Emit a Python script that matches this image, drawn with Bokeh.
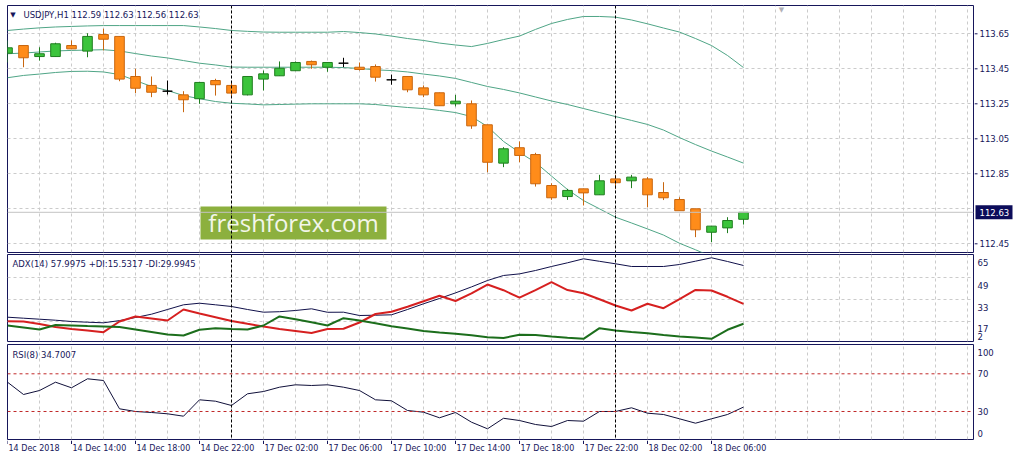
from bokeh.plotting import figure
from bokeh.models import Range1d, FixedTicker, Span, Label, Grid, ColumnDataSource
from bokeh.layouts import column, row
from bokeh.core.properties import value
from bokeh.embed import file_html
from bokeh.resources import INLINE

# ---------------- data (USDJPY H1, 14 Dec 2018 10:00 .. 18 Dec 2018 08:00) ----------------
bar_index = list(range(47))

open_ = [113.539, 113.583, 113.520, 113.520, 113.583, 113.551, 113.646, 113.635, 113.406, 113.355,
         113.322, 113.301, 113.279, 113.383, 113.355, 113.301, 113.391, 113.410, 113.439, 113.492,
         113.459, 113.482, 113.459, 113.463, 113.387, 113.406, 113.341, 113.313, 113.250, 113.250,
         113.130, 112.911, 112.999, 112.960, 112.783, 112.720, 112.764, 112.730, 112.821, 112.810,
         112.821, 112.743, 112.703, 112.650, 112.516, 112.541, 112.590]
high_ = [113.612, 113.586, 113.573, 113.599, 113.612, 113.653, 113.679, 113.636, 113.450, 113.406,
         113.383, 113.322, 113.375, 113.393, 113.373, 113.408, 113.440, 113.492, 113.492, 113.497,
         113.487, 113.513, 113.486, 113.475, 113.417, 113.407, 113.355, 113.314, 113.301, 113.269,
         113.130, 113.002, 113.035, 112.970, 112.796, 112.764, 112.765, 112.844, 112.844, 112.844,
         112.831, 112.802, 112.716, 112.650, 112.551, 112.602, 112.630]
low_ = [113.486, 113.459, 113.497, 113.518, 113.562, 113.516, 113.555, 113.379, 113.311, 113.288,
        113.303, 113.202, 113.250, 113.297, 113.284, 113.298, 113.326, 113.410, 113.439, 113.450,
        113.433, 113.459, 113.440, 113.377, 113.359, 113.316, 113.288, 113.238, 113.235, 113.107,
        112.859, 112.888, 112.916, 112.777, 112.701, 112.701, 112.669, 112.730, 112.764, 112.768,
        112.659, 112.700, 112.639, 112.488, 112.459, 112.511, 112.560]
close_ = [113.570, 113.513, 113.536, 113.593, 113.564, 113.635, 113.619, 113.391, 113.339, 113.316,
          113.322, 113.273, 113.372, 113.359, 113.311, 113.406, 113.421, 113.453, 113.486, 113.473,
          113.486, 113.482, 113.446, 113.402, 113.387, 113.330, 113.301, 113.239, 113.265, 113.124,
          112.916, 112.993, 112.955, 112.793, 112.713, 112.755, 112.741, 112.810, 112.799, 112.831,
          112.730, 112.713, 112.639, 112.530, 112.551, 112.583, 112.630]

upper_band = [113.669, 113.677, 113.684, 113.689, 113.692, 113.695, 113.697, 113.697, 113.697, 113.697,
              113.697, 113.697, 113.689, 113.680, 113.669, 113.664, 113.660, 113.659, 113.659, 113.659,
              113.659, 113.663, 113.657, 113.649, 113.637, 113.623, 113.612, 113.597, 113.586, 113.577,
              113.595, 113.617, 113.637, 113.675, 113.709, 113.732, 113.749, 113.749, 113.745, 113.729,
              113.707, 113.683, 113.660, 113.623, 113.583, 113.526, 113.457]
middle_band = [113.536, 113.540, 113.546, 113.552, 113.555, 113.557, 113.559, 113.552, 113.537, 113.523,
               113.512, 113.497, 113.482, 113.472, 113.460, 113.459, 113.459, 113.459, 113.459, 113.459,
               113.459, 113.457, 113.452, 113.444, 113.440, 113.432, 113.420, 113.409, 113.395, 113.372,
               113.349, 113.332, 113.312, 113.289, 113.266, 113.246, 113.223, 113.200, 113.177, 113.155,
               113.132, 113.100, 113.057, 113.017, 112.980, 112.946, 112.911]
lower_band = [113.399, 113.412, 113.420, 113.429, 113.435, 113.436, 113.432, 113.417, 113.383, 113.349,
              113.326, 113.297, 113.279, 113.263, 113.253, 113.249, 113.244, 113.246, 113.248, 113.250,
              113.250, 113.250, 113.250, 113.246, 113.237, 113.229, 113.223, 113.212, 113.200, 113.177,
              113.120, 113.035, 112.972, 112.915, 112.837, 112.760, 112.697, 112.650, 112.602, 112.569,
              112.535, 112.500, 112.453, 112.416, 112.377, 112.337, 112.297]

adx = [20.34, 19.61, 18.88, 18.15, 17.20, 16.69, 16.26, 17.86, 20.12, 22.52,
       25.95, 29.37, 30.53, 29.37, 28.13, 25.95, 23.98, 24.34, 25.22, 26.45,
       23.91, 23.98, 21.57, 21.79, 22.08, 25.95, 30.10, 33.96, 38.04, 42.41,
       47.07, 50.71, 51.88, 54.35, 57.27, 59.96, 62.87, 61.05, 59.23, 57.27,
       57.27, 57.27, 58.72, 61.13, 63.60, 60.91, 58.00]
plus_di = [14.29, 12.83, 11.38, 14.66, 14.36, 13.93, 13.56, 13.13, 11.38, 9.56,
           7.74, 7.01, 11.16, 12.25, 11.67, 11.38, 14.29, 20.85, 18.88, 16.62,
           14.29, 19.61, 17.93, 15.97, 13.71, 12.11, 10.36, 9.19, 8.25, 7.15,
           5.77, 5.19, 7.52, 7.44, 6.28, 5.40, 4.60, 12.32, 10.65, 9.63,
           8.68, 7.37, 6.35, 5.48, 4.60, 11.16, 15.53]
minus_di = [17.42, 17.20, 15.31, 13.13, 11.74, 10.65, 9.41, 17.20, 20.85, 19.39,
            17.93, 25.95, 23.03, 20.34, 17.57, 15.53, 13.56, 11.67, 10.28, 8.83,
            11.74, 11.96, 16.48, 22.67, 24.34, 27.98, 31.92, 35.92, 32.14, 37.67,
            44.15, 40.00, 34.54, 40.00, 45.83, 40.08, 37.82, 33.45, 28.86, 25.22,
            30.10, 26.89, 33.52, 40.22, 39.78, 35.20, 29.99]
rsi = [61.09, 48.04, 52.28, 61.09, 55.15, 64.69, 62.89, 32.86, 30.00, 28.94,
       27.56, 25.01, 42.41, 40.93, 36.37, 48.78, 51.22, 55.78, 58.33, 57.59,
       58.33, 55.78, 52.28, 42.41, 41.35, 31.06, 29.26, 23.32, 28.94, 18.65,
       11.64, 22.79, 20.45, 16.21, 14.08, 20.45, 19.71, 30.00, 30.00, 33.93,
       28.20, 26.82, 22.25, 17.59, 22.25, 26.82, 34.70]

time_tick_bars = [0, 4, 8, 12, 16, 20, 24, 28, 32, 36, 40, 44]
time_tick_labels = ["14 Dec 2018", "14 Dec 14:00", "14 Dec 18:00", "14 Dec 22:00",
                    "17 Dec 02:00", "17 Dec 06:00", "17 Dec 10:00", "17 Dec 14:00",
                    "17 Dec 18:00", "17 Dec 22:00", "18 Dec 02:00", "18 Dec 06:00"]
separator_bars = [14, 38]
price_ticks = [112.45, 112.85, 113.05, 113.25, 113.45, 113.65]
price_tick_text = ["112.45", "112.85", "113.05", "113.25", "113.45", "113.65"]
price_grid = [112.45, 112.65, 112.85, 113.05, 113.25, 113.45, 113.65]
adx_grid = [17, 33, 49]
adx_tick_pos = [60.4, 43.43, 27.62, 11.89, 6.28]
adx_tick_text = ["65", "49", "33", "17", "2"]
rsi_tick_pos = [92.9, 70, 30, 6.98]
rsi_tick_text = ["100", "70", "30", "0"]
rsi_levels = [30, 70]
last_price = 112.63
last_price_text = "112.63"
title_main = "USDJPY,H1  112.59 112.63 112.56 112.63"
title_adx = "ADX(14) 57.9975 +DI:15.5317 -DI:29.9945"
title_rsi = "RSI(8) 34.7007"

# ---------------- styling ----------------
FONT = "DejaVu Sans"
NAVY = "#16165a"
GRID = "#cbcbcb"
BULL_FILL, BULL_LINE = "#3cc43c", "#1f7d1f"
BEAR_FILL, BEAR_LINE = "#ff8c1a", "#c8660f"
BAND = "#4fa586"
PANEL_W = 974      # frame from x=7 to x=973
AXIS_W = 41        # price scale strip on the right
x_range = Range1d(0, 60.375)


def clean(p):
    p.grid.visible = False
    p.background_fill_color = "white"
    p.border_fill_color = "white"
    return p


def panel_fig(height, y_range, top, bottom):
    p = figure(width=PANEL_W, height=height, x_range=x_range, y_range=y_range,
               output_backend="svg", toolbar_location=None,
               x_axis_location=None, y_axis_location=None,
               min_border_left=7, min_border_right=1,
               min_border_top=top, min_border_bottom=bottom)
    clean(p)
    p.outline_line_color = NAVY
    p.add_layout(Grid(dimension=0, ticker=FixedTicker(ticks=list(range(2, 61, 2))),
                      grid_line_color=GRID, grid_line_dash="3 3"))
    for b in separator_bars:
        p.add_layout(Span(location=b, dimension="height", line_color="black",
                          line_dash="3 2", line_width=1))
    return p


def scale_fig(height, y_range, top, bottom, ticks, texts, tick_len, text_x):
    a = figure(width=AXIS_W, height=height, x_range=Range1d(0, AXIS_W), y_range=y_range,
               output_backend="svg", toolbar_location=None,
               x_axis_location=None, y_axis_location=None,
               min_border_left=0, min_border_right=0,
               min_border_top=top, min_border_bottom=bottom)
    clean(a)
    a.outline_line_color = None
    if tick_len > 0:
        a.segment(x0=0, y0=ticks, x1=tick_len, y1=ticks, line_color=NAVY, line_width=1)
    a.text(x=text_x, y=ticks, text=texts, text_font=value(FONT), text_font_size="8.5px",
           text_color=NAVY, text_baseline="middle", text_align="left")
    return a


def text_label(p, x, y, text, size="8.5px", color=NAVY):
    p.add_layout(Label(x=x, y=y, text=text, text_font=FONT, text_font_size=size,
                       text_color=color, text_baseline="middle", text_align="left"))


# ---------------- main price panel ----------------
main_y = Range1d(112.4003, 113.8117)
p1 = panel_fig(253, main_y, 5, 1)
p1.add_layout(Grid(dimension=1, ticker=FixedTicker(ticks=price_grid),
                   grid_line_color=GRID, grid_line_dash="3 3"))
p1.add_layout(Span(location=last_price, dimension="width", line_color="#c4c4c4", line_width=1))

fills, lines = [], []
for o, c in zip(open_, close_):
    if c > o:
        fills.append(BULL_FILL); lines.append(BULL_LINE)
    elif c < o:
        fills.append(BEAR_FILL); lines.append(BEAR_LINE)
    else:
        fills.append("black"); lines.append("black")
src = ColumnDataSource(dict(x=bar_index, high=high_, low=low_,
                            top=[max(o, c) for o, c in zip(open_, close_)],
                            bottom=[min(o, c) for o, c in zip(open_, close_)],
                            fill=fills, line=lines))

p1.line(bar_index, upper_band, line_color=BAND, line_width=1)
p1.line(bar_index, middle_band, line_color=BAND, line_width=1)
p1.line(bar_index, lower_band, line_color=BAND, line_width=1)
p1.segment(x0="x", y0="low", x1="x", y1="high", line_color="line", line_width=1, source=src)
p1.vbar(x="x", width=0.6, top="top", bottom="bottom", fill_color="fill",
        line_color="line", line_width=1, source=src)

text_label(p1, 0.17, 113.760, "\u25bc", size="7px")
text_label(p1, 1.0, 113.760, title_main)
text_label(p1, 48.2, 113.787, "\u25bc", size="7px", color="#b0b0b8")

# watermark box + text
p1.rect(x=[17.875], y=[112.569], width=186, height=33, width_units="screen",
        height_units="screen", fill_color="#8cb03e", line_color=None)
p1.text(x=[17.875], y=[112.569], text=["freshforex.com"], text_font=value("Open Sans"),
        text_font_size="24px", text_color="#f3f6ea", text_align="center",
        text_baseline="middle")

a1 = scale_fig(253, main_y, 5, 1, price_ticks, price_tick_text, 3, 5)
a1.rect(x=[19.5], y=[last_price], width=37, height=14, width_units="data",
        height_units="screen", fill_color="#0c0c5a", line_color=None)
a1.text(x=[5], y=[last_price], text=[last_price_text], text_font=value(FONT),
        text_font_size="8.5px", text_color="white", text_baseline="middle", text_align="left")

# ---------------- ADX panel ----------------
adx_y = Range1d(2.64, 66.0)
p2 = panel_fig(89, adx_y, 1, 1)
p2.add_layout(Grid(dimension=1, ticker=FixedTicker(ticks=adx_grid),
                   grid_line_color=GRID, grid_line_dash="3 3"))
p2.line(bar_index, adx, line_color="#10104a", line_width=1)
p2.line(bar_index, minus_di, line_color="#d62020", line_width=2)
p2.line(bar_index, plus_di, line_color="#1c6e1c", line_width=2)
text_label(p2, 0.31, 58.72, title_adx)
a2 = scale_fig(89, adx_y, 1, 1, adx_tick_pos, adx_tick_text, 0, 3)

# ---------------- RSI panel ----------------
rsi_y = Range1d(0.29, 101.09)
p3 = panel_fig(98, rsi_y, 2, 1)
for lv in rsi_levels:
    p3.add_layout(Span(location=lv, dimension="width", line_color="#c02828",
                       line_dash="3 3", line_width=1))
p3.line(bar_index, rsi, line_color="#10103a", line_width=1)
text_label(p3, 0.31, 89.95, title_rsi)
a3 = scale_fig(98, rsi_y, 2, 1, rsi_tick_pos, rsi_tick_text, 0, 3)

# ---------------- time scale strip ----------------
pt = figure(width=PANEL_W + AXIS_W, height=21, x_range=x_range, y_range=Range1d(0, 21),
            output_backend="svg", toolbar_location=None,
            x_axis_location=None, y_axis_location=None,
            min_border_left=7, min_border_right=AXIS_W + 1,
            min_border_top=0, min_border_bottom=0)
clean(pt)
pt.outline_line_color = None
pt.segment(x0=time_tick_bars, y0=21, x1=time_tick_bars, y1=17.5, line_color=NAVY, line_width=1)
pt.text(x=time_tick_bars, y=12.7, text=time_tick_labels, x_offset=1,
        text_font=value(FONT), text_font_size="8px", text_color=NAVY,
        text_baseline="middle", text_align="left")

layout = column(row(p1, a1), row(p2, a2), row(p3, a3), pt)
open("out.html", "w").write(file_html(layout, INLINE))
